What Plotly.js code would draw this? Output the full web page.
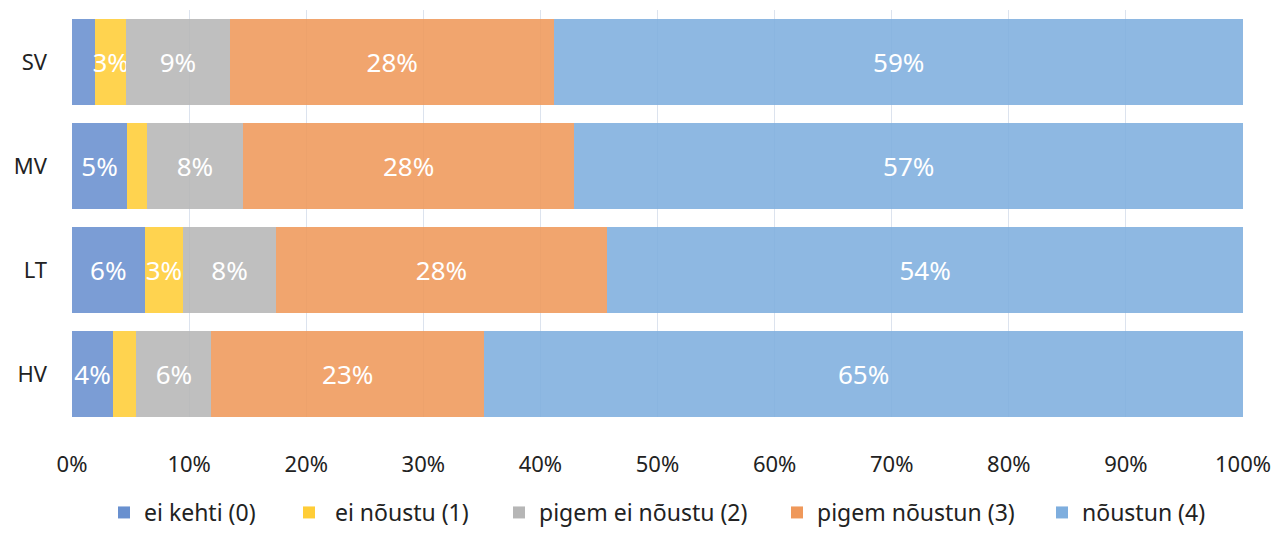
<!DOCTYPE html>
<html>
<head>
<meta charset="utf-8">
<script src="https://cdn.plot.ly/plotly-3.0.1.min.js"></script>
<style>html,body{margin:0;padding:0;background:#fff}#chart{width:1276px;height:534px}</style>
</head>
<body>
<div id="chart"></div>
<script>
const categories = ['SV', 'MV', 'LT', 'HV'];
const seriesNames = ['ei kehti (0)', ' ei nõustu (1)', 'pigem ei nõustu (2)', 'pigem nõustun (3)', 'nõustun (4)'];
const eiKehti = [2.0, 4.7, 6.2, 3.5];
const eiNoustu = [2.6, 1.7, 3.3, 2.0];
const pigemEiNoustu = [8.9, 8.2, 7.9, 6.4];
const pigemNoustun = [27.7, 28.3, 28.3, 23.3];
const noustun = [58.8, 57.1, 54.3, 64.8];
const xTickVals = [0, 10, 20, 30, 40, 50, 60, 70, 80, 90, 100];
const xTickText = ['0%', '10%', '20%', '30%', '40%', '50%', '60%', '70%', '80%', '90%', '100%'];
const colors = ['#6990cf', '#ffcd37', '#b6b6b6', '#ef985a', '#7eaede'];

const series = [eiKehti, eiNoustu, pigemEiNoustu, pigemNoustun, noustun];
const font = '"Noto Sans", "Open Sans", sans-serif';
const W = 1276, H = 534;

// left pixel of each legend entry box
const legendLeft = [104, 289, 499, 777, 1042];
const legendNames = ['legend', 'legend2', 'legend3', 'legend4', 'legend5'];

const traces = series.map((vals, i) => ({
  type: 'bar',
  orientation: 'h',
  name: seriesNames[i],
  legend: legendNames[i],
  y: categories,
  x: vals,
  marker: {color: colors[i], opacity: 0.88, line: {width: 0}},
  text: vals.map(v => v >= 2.5 ? Math.round(v) + '%' : ''),
  textposition: 'inside',
  insidetextanchor: 'middle',
  constraintext: 'none',
  textangle: 0,
  textfont: {family: font, size: 26, color: '#ffffff'},
  hoverinfo: 'name+x'
}));

const layout = {
  width: W,
  height: H,
  margin: {l: 72, r: 33, t: 10, b: 117},
  barmode: 'stack',
  bargap: 0.173,
  paper_bgcolor: '#ffffff',
  plot_bgcolor: '#ffffff',
  font: {family: font, color: '#222222'},
  xaxis: {
    range: [0, 100],
    tickvals: xTickVals,
    ticktext: xTickText,
    showgrid: true,
    gridcolor: '#dce3ee',
    gridwidth: 1,
    zeroline: false,
    showline: false,
    ticks: '',
    ticklabelstandoff: 32,
    tickfont: {family: font, size: 22, color: '#222222'},
    fixedrange: true
  },
  yaxis: {
    type: 'category',
    categoryorder: 'array',
    categoryarray: categories,
    range: [3.41, -0.5],
    showgrid: false,
    zeroline: false,
    showline: false,
    ticks: '',
    ticklabelstandoff: 24,
    tickfont: {family: font, size: 22, color: '#222222'},
    fixedrange: true
  },
  showlegend: true
};

legendNames.forEach((ln, i) => {
  layout[ln] = {
    orientation: 'h',
    xref: 'container',
    yref: 'container',
    x: legendLeft[i] / W,
    xanchor: 'left',
    y: 0,
    yanchor: 'bottom',
    bgcolor: 'rgba(0,0,0,0)',
    font: {family: font, size: 23, color: '#222222'},
    itemwidth: 30
  };
});

Plotly.newPlot('chart', traces, layout, {displayModeBar: false, staticPlot: true});
</script>
</body>
</html>
